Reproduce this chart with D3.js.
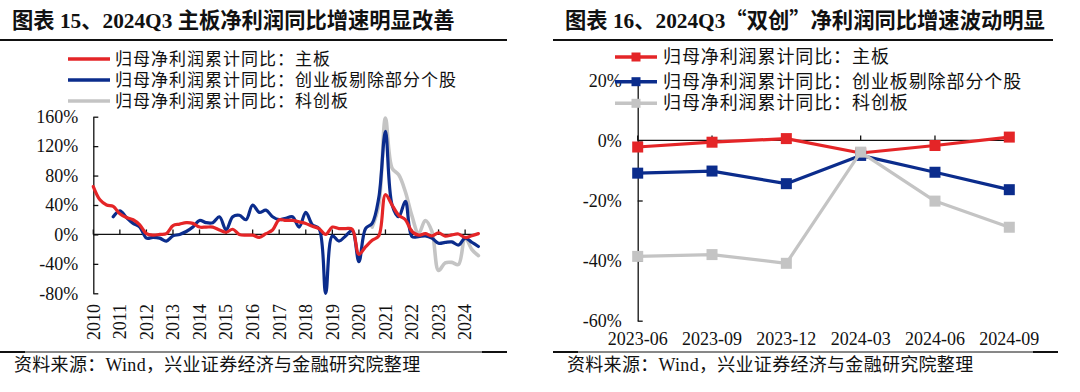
<!DOCTYPE html>
<html><head><meta charset="utf-8">
<script src="https://cdn.jsdelivr.net/npm/d3@7"></script>
<style>
html,body{margin:0;padding:0;background:#fff;}
svg{display:block;}
.tick text{font-family:"Liberation Serif","Times New Roman",serif;font-size:18px;fill:#111;}
</style></head>
<body>
<svg id="c" width="1080" height="392"></svg>
<script>
// ---------- Data ----------
const quarters = [
"2010Q1","2010Q2","2010Q3","2010Q4","2011Q1","2011Q2","2011Q3","2011Q4",
"2012Q1","2012Q2","2012Q3","2012Q4","2013Q1","2013Q2","2013Q3","2013Q4",
"2014Q1","2014Q2","2014Q3","2014Q4","2015Q1","2015Q2","2015Q3","2015Q4",
"2016Q1","2016Q2","2016Q3","2016Q4","2017Q1","2017Q2","2017Q3","2017Q4",
"2018Q1","2018Q2","2018Q3","2018Q4","2019Q1","2019Q2","2019Q3","2019Q4",
"2020Q1","2020Q2","2020Q3","2020Q4","2021Q1","2021Q2","2021Q3","2021Q4",
"2022Q1","2022Q2","2022Q3","2022Q4","2023Q1","2023Q2","2023Q3","2023Q4",
"2024Q1","2024Q2","2024Q3"];
const yearLabels = ["2010","2011","2012","2013","2014","2015","2016","2017","2018","2019","2020","2021","2022","2023","2024"];
const yearTickQuarters = ["2010Q1","2011Q1","2012Q1","2013Q1","2014Q1","2015Q1","2016Q1","2017Q1","2018Q1","2019Q1","2020Q1","2021Q1","2022Q1","2023Q1","2024Q1"];

const mainBoard = [65,47,40,38, 28,23,20,13, 1,-1,0,1, 12,14,16,15, 10,10,10,6, 3,7,0,-1,
  -1,-4,1,6, 20,19,19,17, 15,11,8,0, 10,8,8,7, -27,-17,-8,-2, 54,40,26,20,
  4,-1,1,-2, 2,-2.2,-0.6,0.6, -4.2,-1.7,1.1];
const chiNext = [null,null,null,24, 32,23,15,10, -5,-4,-5,-9, -2,0,4,10, 19,16,16,24, 6,24,26,20,
  40,30,33,24, 20,22,24,10, 30,13,8,-80, -2,-9,-2,5, -37,8,15,50, 140,40,24,45,
  -3,-3,-2,-5, -12,-10.9,-10.2,-14.4, -5,-10.6,-16.4];
const star = [null,null,null,null, null,null,null,null, null,null,null,null, null,null,null,null,
  null,null,null,null, null,null,null,null, null,null,null,null, null,null,null,null,
  null,null,null,null, null,null,null,null, null,null,10,40, 158,90,81,58,
  25,1,19,4, -49,-38.6,-38,-40.9, -3.9,-20.2,-28.9];

const leftTicks = [-80,-40,0,40,80,120,160];

const periods = ["2023-06","2023-09","2023-12","2024-03","2024-06","2024-09"];
const rMain = [-2.2,-0.6,0.6,-4.2,-1.7,1.1];
const rChiNext = [-10.9,-10.2,-14.4,-5.0,-10.6,-16.4];
const rStar = [-38.6,-38.0,-40.9,-3.9,-20.2,-28.9];
const rightTicks = [-60,-40,-20,0,20];

const seriesNames = ["归母净利润累计同比：主板","归母净利润累计同比：创业板剔除部分个股","归母净利润累计同比：科创板"];
const colors = ["#E42527","#0B2C8C","#C4C4C4"];

const titleL = ["图表 15、2024Q3 主板净利润同比增速明显改善"];
const titleR = ["图表 16、2024Q3", "“", "双创", "”", "净利润同比增速波动明显"];
const source = "资料来源：Wind，兴业证券经济与金融研究院整理";

// ---------- Drawing ----------
const svg = d3.select("#c");
const serifCJK = '"Liberation Serif","Times New Roman","Noto Sans CJK SC",serif';
const cjk = '"Noto Sans CJK SC",sans-serif';

function header(x0, x1, tx, parts){
  const t = svg.append("text").attr("x",tx).attr("y",28)
    .attr("font-family",serifCJK).attr("font-weight","bold").attr("font-size",21.3)
    .attr("fill","#111");
  parts.forEach(p=>{
    const s = t.append("tspan").text(p);
    if(p==="“"||p==="”") s.attr("font-family",cjk);
  });
  svg.append("line").attr("x1",x0).attr("x2",x1).attr("y1",40).attr("y2",40)
    .attr("stroke","#111").attr("stroke-width",2);
}
function footer(x0, x1, tx){
  svg.append("line").attr("x1",x0).attr("x2",x1).attr("y1",352).attr("y2",352)
    .attr("stroke","#111").attr("stroke-width",1);
  svg.append("line").attr("x1",x0).attr("x2",x0+25).attr("y1",352).attr("y2",352)
    .attr("stroke","#111").attr("stroke-width",2);
  svg.append("line").attr("x1",x1-25).attr("x2",x1).attr("y1",352).attr("y2",352)
    .attr("stroke","#111").attr("stroke-width",2);
  svg.append("text").attr("x",tx).attr("y",371)
    .attr("font-family",serifCJK).attr("font-size",18).attr("letter-spacing",0.3)
    .attr("fill","#111").text(source);
}
header(0,507,12,titleL);
header(553,1053,565,titleR);
footer(0,507,14);
footer(553,1058,567);

// ---------- Left chart ----------
const xL = d3.scalePoint().domain(quarters).range([93.3,478.4]);
const yL = d3.scaleLinear().domain([-80,160]).range([293.3,116.7]);

const gL = svg.append("g");
gL.append("g").attr("transform","translate(93.3,0)")
  .call(d3.axisLeft(yL).tickValues(leftTicks).tickSize(-5).tickSizeOuter(0).tickPadding(15).tickFormat(d=>d+"%"))
  .call(g=>g.selectAll("line,path").attr("stroke","#111").attr("stroke-width",1.3));

const y0L = yL(0);
gL.append("line").attr("x1",xL(quarters[0])).attr("x2",xL(quarters[quarters.length-1]))
  .attr("y1",y0L).attr("y2",y0L).attr("stroke","#111").attr("stroke-width",1.3);
gL.selectAll(".yt").data(yearTickQuarters).enter().append("line")
  .attr("x1",d=>xL(d)).attr("x2",d=>xL(d)).attr("y1",y0L).attr("y2",y0L-5)
  .attr("stroke","#111").attr("stroke-width",1.3);
gL.selectAll(".yl").data(yearTickQuarters).enter().append("text")
  .attr("transform",d=>`translate(${xL(d)},304) rotate(-90)`)
  .attr("text-anchor","end").attr("dy","0.35em")
  .attr("font-family",'"Liberation Serif","Times New Roman",serif').attr("font-size",18).attr("fill","#111")
  .text((d,i)=>yearLabels[i]);

const lineL = d3.line().defined(d=>d.v!==null).x(d=>xL(d.q)).y(d=>yL(d.v)).curve(d3.curveCatmullRom.alpha(0.5));
const leftSeries = [mainBoard, chiNext, star];
[2,1,0].forEach(k=>{
  const data = quarters.map((q,i)=>({q, v:leftSeries[k][i]}));
  gL.append("path").datum(data).attr("d",lineL).attr("fill","none")
    .attr("stroke",colors[k]).attr("stroke-width",k===2?3.6:3.2)
    .attr("stroke-linejoin","round").attr("stroke-linecap","round");
});

const legL = [59,80,101];
seriesNames.forEach((n,k)=>{
  svg.append("line").attr("x1",68).attr("x2",110).attr("y1",legL[k]).attr("y2",legL[k])
    .attr("stroke",colors[k]).attr("stroke-width",3.5);
  svg.append("text").attr("x",115).attr("y",legL[k]+6)
    .attr("font-family",cjk).attr("font-size",17).attr("letter-spacing",1.0)
    .attr("fill","#111").text(n);
});

// ---------- Right chart ----------
const xR = d3.scalePoint().domain(periods).range([637.7,1009.3]);
const yR = d3.scaleLinear().domain([-60,20]).range([320.7,80.3]);

const gR = svg.append("g");
gR.append("g").attr("transform","translate(637.7,0)")
  .call(d3.axisLeft(yR).tickValues(rightTicks).tickSize(-5).tickSizeOuter(0).tickPadding(16).tickFormat(d=>d+"%"))
  .call(g=>g.selectAll("line,path").attr("stroke","#111").attr("stroke-width",1.3));
const y0R = yR(0);
gR.append("line").attr("x1",xR(periods[0])).attr("x2",xR(periods[periods.length-1]))
  .attr("y1",y0R).attr("y2",y0R).attr("stroke","#111").attr("stroke-width",1.3);
gR.selectAll(".pt").data(periods).enter().append("line")
  .attr("x1",d=>xR(d)).attr("x2",d=>xR(d)).attr("y1",y0R).attr("y2",y0R-5)
  .attr("stroke","#111").attr("stroke-width",1.3);
gR.selectAll(".pl").data(periods).enter().append("text")
  .attr("x",d=>xR(d)).attr("y",345).attr("text-anchor","middle")
  .attr("font-family",'"Liberation Serif","Times New Roman",serif').attr("font-size",18).attr("fill","#111")
  .text(d=>d);

const lineR = d3.line().x(d=>xR(d.p)).y(d=>yR(d.v));
const rightSeries = [rMain, rChiNext, rStar];
[0,1,2].forEach(k=>{
  const data = periods.map((p,i)=>({p, v:rightSeries[k][i]}));
  gR.append("path").datum(data).attr("d",lineR).attr("fill","none")
    .attr("stroke",colors[k]).attr("stroke-width",3.2).attr("stroke-linejoin","round");
  gR.selectAll(null).data(data).enter().append("rect")
    .attr("x",d=>xR(d.p)-5.5).attr("y",d=>yR(d.v)-5.5).attr("width",11).attr("height",11)
    .attr("fill",colors[k]);
});

const legR = [57,81.7,103.3];
seriesNames.forEach((n,k)=>{
  svg.append("line").attr("x1",615).attr("x2",657).attr("y1",legR[k]).attr("y2",legR[k])
    .attr("stroke",colors[k]).attr("stroke-width",3.5);
  svg.append("rect").attr("x",636-4.5).attr("y",legR[k]-4.5).attr("width",9).attr("height",9).attr("fill",colors[k]);
  svg.append("text").attr("x",663).attr("y",legR[k]+6)
    .attr("font-family",cjk).attr("font-size",18).attr("letter-spacing",0.9)
    .attr("fill","#111").text(n);
});
</script>
</body></html>
